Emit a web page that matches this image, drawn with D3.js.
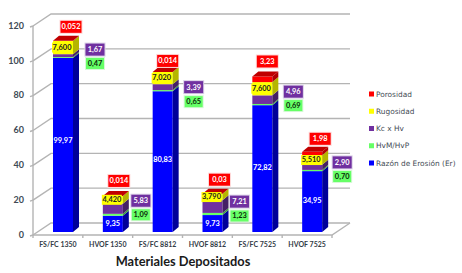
<!DOCTYPE html>
<html><head><meta charset="utf-8">
<script src="https://cdn.jsdelivr.net/npm/d3@7/dist/d3.min.js"></script>
<style>html,body{margin:0;padding:0;background:#fff}svg{display:block}</style>
</head><body><svg id="c" width="462" height="273"></svg>
<script>
const categories = ["FS/FC 1350","HVOF 1350","FS/FC 8812","HVOF 8812","FS/FC 7525","HVOF 7525"];
const erosion = [99.97,9.35,80.83,9.73,72.82,34.95];
const hvmHvp = [0.47,1.09,0.65,1.23,0.69,0.70];
const kcHv = [1.67,5.83,3.39,7.21,4.96,2.90];
const rugosidad = [7.6,4.42,7.02,3.79,7.6,5.51];
const porosidad = [0.052,0.014,0.014,0.03,3.23,1.98];
const erosionText = ["99,97","9,35","80,83","9,73","72,82","34,95"];
const hvmText = ["0,47","1,09","0,65","1,23","0,69","0,70"];
const kcText = ["1,67","5,83","3,39","7,21","4,96","2,90"];
const rugText = ["7,600","4,420","7,020","3,790","7,600","5,510"];
const porText = ["0,052","0,014","0,014","0,03","3,23","1,98"];
const yTicks = [0,20,40,60,80,100,120];
const legendNames = ["Porosidad","Rugosidad","Kc x Hv","HvM/HvP","Razón de Erosión (Er)"];

// layout: manual label nudges, in pixels, as in the original's hand-placed labels
const porDx=[18,16,15,17,15,18], porDy=[-14,-15,-11,-14,-15,-13];
const kcDy=[-6,-8,0,-5,-8,-5], hvmDy=[6,0,11,2,1,6];
const sideDx=[42,38,41,37,41,40];
const ptDy=[-4,0,-2,0,-1,-1];

const svg=d3.select("#c");
const font="Lato, 'Open Sans', sans-serif";
const W={x0:33,x1:332,dx:18,dy:-12};
const y=d3.scaleLinear().domain([0,120]).range([235,26]);
const x=d3.scaleBand().domain(categories).range([W.x0,W.x1]);
const barOff=20, barW=20, depX=6, depY=-5, lift=-3;

const gridC="#b4b4b4";
const g=svg.append("g").attr("fill","none").attr("stroke",gridC).attr("stroke-width",1.4);
yTicks.forEach(t=>{
  g.append("path").attr("d",`M${W.x0},${y(t)}L${W.x0+W.dx},${y(t)+W.dy}H${W.x1+W.dx}`);
  g.append("path").attr("d",`M${W.x0-3},${y(t)+1}L${W.x0},${y(t)}`);
});
g.append("path").attr("d",`M${W.x0},${y(0)}V${y(120)}`);
g.append("path").attr("d",`M${W.x0},${y(0)}H${W.x1}L${W.x1+W.dx},${y(0)+W.dy}`);
[...categories.map(c=>x(c)),W.x1].forEach(v=>g.append("path").attr("d",`M${v},${y(0)}v3`));

svg.append("g").selectAll("text").data(yTicks).join("text")
 .attr("x",24).attr("y",d=>y(d)+0.5).attr("text-anchor","end").attr("dominant-baseline","middle")
 .attr("font-family",font).attr("font-weight",700).attr("font-size",9).attr("fill","#404a55").text(d=>d);

svg.append("g").selectAll("text").data(categories).join("text")
 .attr("x",d=>x(d)+x.bandwidth()/2).attr("y",247).attr("text-anchor","middle")
 .attr("font-family",font).attr("font-weight",700).attr("font-size",7).attr("fill","#333c46").text(d=>d);

svg.append("text").attr("x",183).attr("y",266).attr("text-anchor","middle")
 .attr("font-family",font).attr("font-weight",700).attr("font-size",12.8).attr("fill","#1a1a1a").text("Materiales Depositados");

const rows=categories.map((c,i)=>({c,er:erosion[i],hv:hvmHvp[i],kc:kcHv[i],ru:rugosidad[i],po:porosidad[i]}));
const keys=["er","hv","kc","ru","po"];
const front={er:"#0000ff",hv:"#66ff66",kc:"#7030a0",ru:"#ffff00",po:"#ff0000"};
const side={er:"#00009a",hv:"#3fa03f",kc:"#452065",ru:"#b5b500",po:"#b00000"};
const stacked=d3.stack().keys(keys)(rows);
const py=v=>y(v)+lift;
const bars=svg.append("g");
stacked.forEach(layer=>{
  layer.forEach((d,i)=>{
    const l=x(categories[i])+barOff, r=l+barW, a=py(d[1]), b=py(d[0]);
    bars.append("rect").attr("x",l).attr("y",a).attr("width",barW).attr("height",b-a).attr("fill",front[layer.key]);
    bars.append("path").attr("d",`M${r},${a}l${depX},${depY}V${b+depY}l${-depX},${-depY}Z`).attr("fill",side[layer.key]);
  });
});
stacked[4].forEach((d,i)=>{
  const l=x(categories[i])+barOff, a=py(d[1]);
  bars.append("path").attr("d",`M${l},${a}l${depX},${depY}h${barW}l${-depX},${-depY}Z`).attr("fill","#c00000");
});

function tag(cx,cy,txt,bg,fg,w,h,halo){
  const t=svg.append("g");
  if(bg){
    if(halo) t.append("rect").attr("x",cx-w/2-1).attr("y",cy-h/2-1).attr("width",w+2).attr("height",h+2).attr("fill",halo);
    t.append("rect").attr("x",cx-w/2).attr("y",cy-h/2).attr("width",w).attr("height",h).attr("fill",bg);
  }
  t.append("text").attr("x",cx).attr("y",cy+0.5).attr("text-anchor","middle").attr("dominant-baseline","middle")
   .attr("font-family",font).attr("font-weight",700).attr("font-size",7.4).attr("fill",fg).text(txt);
}
const mid=(d)=>py((d[0]+d[1])/2);
categories.forEach((c,i)=>{
  const l=x(c)+barOff, cx=l+barW/2;
  tag(cx,mid(stacked[0][i])+ptDy[i],erosionText[i],null,"#ffffff");
  tag(cx-1,mid(stacked[3][i]),rugText[i],"#ffff00","#222",20,10);
  tag(l+sideDx[i],mid(stacked[2][i])+kcDy[i],kcText[i],"#7030a0","#ffffff",19,12,"#d9cfe6");
  tag(l+sideDx[i],mid(stacked[1][i])+hvmDy[i],hvmText[i],"#66ff66","#0a2a0a",18,11,"#d8f8d8");
  tag(l+porDx[i],py(stacked[4][i][1])+porDy[i],porText[i],"#ff0000","#ffffff",21,12,"#ffd8d8");
});

const legY=d3.scaleLinear().domain([0,4]).range([94,163]);
const legC=[front.po,front.ru,front.kc,front.hv,front.er];
const lg=svg.append("g");
legendNames.forEach((n,i)=>{
  lg.append("rect").attr("x",369).attr("y",legY(i)-2.5).attr("width",5).attr("height",5).attr("fill",legC[i]);
  lg.append("text").attr("x",376).attr("y",legY(i)+0.5).attr("dominant-baseline","middle")
    .attr("font-family","'DejaVu Sans',sans-serif").attr("font-size",7.4).attr("fill","#444c55").text(n);
});
</script></body></html>
